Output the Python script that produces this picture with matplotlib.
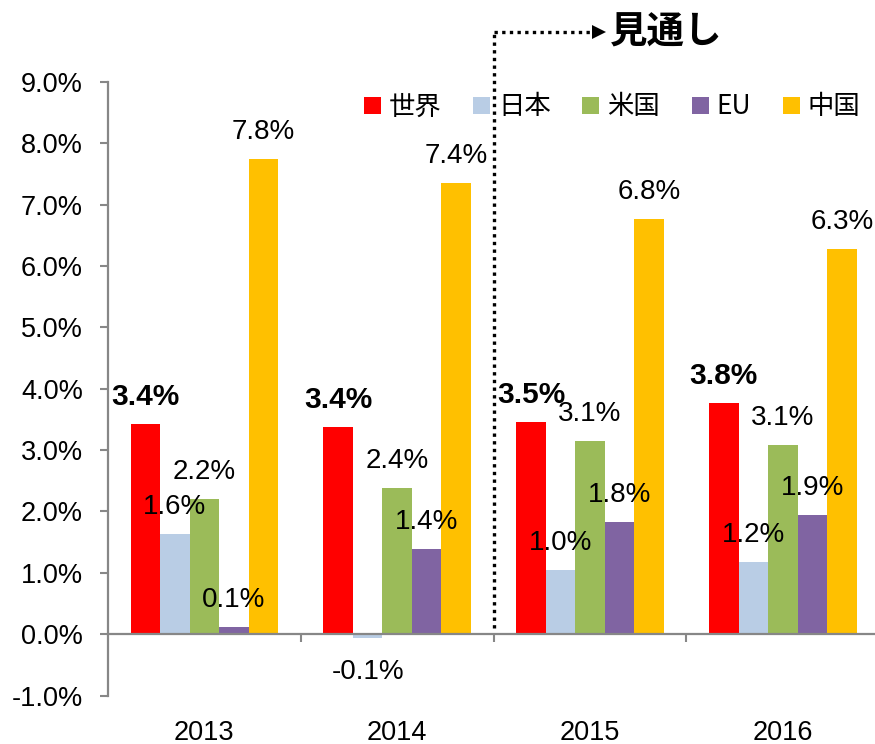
import matplotlib
matplotlib.use('Agg')
import matplotlib.pyplot as plt
from matplotlib.patches import Patch
from matplotlib.ticker import FuncFormatter, FixedLocator
import numpy as np

years = ['2013', '2014', '2015', '2016']
series_names = ['世界', '日本', '米国', 'EU', '中国']
world = [3.43, 3.38, 3.46, 3.77]
japan = [1.63, -0.06, 1.04, 1.18]
us = [2.21, 2.39, 3.15, 3.08]
eu = [0.11, 1.39, 1.83, 1.94]
china = [7.74, 7.36, 6.77, 6.28]
world_labels = ['3.4%', '3.4%', '3.5%', '3.8%']
japan_labels = ['1.6%', '-0.1%', '1.0%', '1.2%']
us_labels = ['2.2%', '2.4%', '3.1%', '3.1%']
eu_labels = ['0.1%', '1.4%', '1.8%', '1.9%']
china_labels = ['7.8%', '7.4%', '6.8%', '6.3%']
colors = ['#FF0000', '#B9CDE5', '#9BBB59', '#8064A2', '#FFC000']
forecast_label = '見通し'

series = [world, japan, us, eu, china]
series_labels = [world_labels, japan_labels, us_labels, eu_labels, china_labels]

W, H = 875, 744
fig = plt.figure(figsize=(W / 100, H / 100), dpi=100)
ax = fig.add_axes([108 / W, (H - 695.5) / H, (875 - 108) / W, (695.5 - 82) / H])

x = np.arange(len(years))
bw = 0.153
for j, (vals, col) in enumerate(zip(series, colors)):
    xs = x + (j - 2) * bw
    ax.bar(xs, vals, width=bw, color=col, edgecolor='none', zorder=2)
    for xi, v, lab in zip(xs, vals, series_labels[j]):
        if j == 0:
            fs, fw = 21.5, 'bold'
        else:
            fs, fw = 20, 'normal'
        dy = 27 if v >= 0 else -34
        ax.annotate(lab, xy=(xi, v), xytext=(0, dy),
                    textcoords='offset pixels', ha='center', va='center',
                    fontsize=fs, fontweight=fw, family='Liberation Sans',
                    zorder=4)

ax.set_xlim(-0.5, 3.478)
ax.set_ylim(-1, 9)

gray = '#878787'
for s in ['top', 'right']:
    ax.spines[s].set_visible(False)
ax.spines['left'].set_color(gray)
ax.spines['left'].set_linewidth(1.6)
ax.spines['bottom'].set_position(('data', 0))
ax.spines['bottom'].set_color(gray)
ax.spines['bottom'].set_linewidth(1.6)
ax.spines['bottom'].set_zorder(3)

ax.yaxis.set_major_locator(FixedLocator(np.arange(-1, 9.01, 1)))
ax.yaxis.set_major_formatter(FuncFormatter(lambda v, p: f'{v:.1f}%'))
ax.tick_params(axis='y', direction='out', length=6, width=1.5, color=gray,
               pad=12, labelsize=19.5)
for t in ax.get_yticklabels():
    t.set_family('Liberation Sans')

ax.xaxis.set_major_locator(FixedLocator(x + 0.5))
ax.xaxis.set_major_formatter(FuncFormatter(lambda v, p: ''))
ax.tick_params(axis='x', direction='out', length=6, width=1.5, color=gray)

for xi, y in zip(x, years):
    ax.annotate(y, xy=(xi, 0), xycoords=('data', 'axes fraction'),
                xytext=(0, -37), textcoords='offset pixels',
                ha='center', va='center', fontsize=19.5, family='Liberation Sans')

# Forecast marker (dotted bracket with arrow)
ytop = (634 - 32) / 61.35
ax.plot([1.5, 1.5], [0.1, ytop], color='black', lw=2.4, dashes=(1, 1.3),
        clip_on=False, zorder=5, dash_capstyle='butt')
ax.plot([1.5, 2.01], [ytop, ytop], color='black', lw=2.4, dashes=(1, 1.3),
        clip_on=False, zorder=5, dash_capstyle='butt')
ax.plot([2.047], [ytop], marker='>', markersize=10, color='black',
        clip_on=False, zorder=5, markeredgewidth=0)
ax.text(2.104, ytop, forecast_label, ha='left', va='center', fontsize=27,
        fontweight='bold', family=['Noto Sans CJK JP', 'DejaVu Sans'],
        clip_on=False)

handles = [Patch(facecolor=c, edgecolor='none') for c in colors]
leg = fig.legend(handles, series_names, loc='center left',
                 bbox_to_anchor=(364 / W, (H - 107) / H), ncol=5,
                 frameon=False, borderpad=0, borderaxespad=0,
                 handlelength=0.64, handleheight=0.6, handletextpad=0.3,
                 columnspacing=1.2,
                 prop={'family': ['Noto Sans CJK JP', 'DejaVu Sans'], 'size': 19})

fig.savefig('out.png', dpi=100)
